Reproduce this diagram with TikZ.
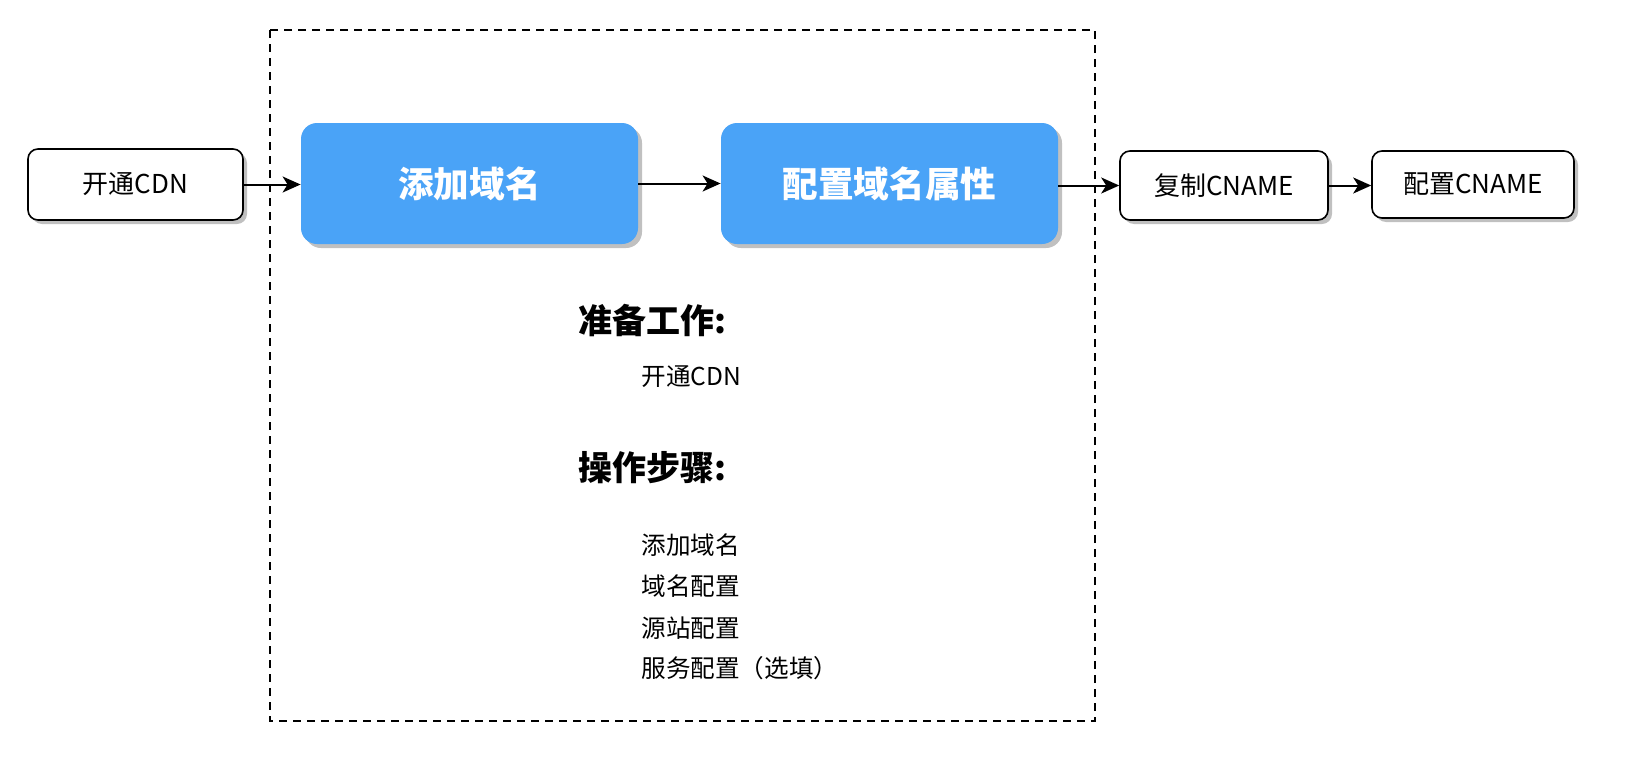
\documentclass[tikz,border=0pt]{standalone}
\usepackage{fontspec}
\setmainfont{Noto Sans CJK SC}
\usetikzlibrary{arrows.meta,shadows}
\definecolor{bluebox}{RGB}{74,163,247}
\definecolor{shadowgray}{RGB}{192,192,192}
\tikzset{
  whitebox/.style={draw=black, line width=0.8pt, fill=white, rounded corners=5pt,
    drop shadow={shadow xshift=2pt, shadow yshift=-2pt, fill=shadowgray, opacity=1},
    font=\fontsize{13pt}{15pt}\selectfont, inner sep=0pt},
  bluestep/.style={draw=none, fill=bluebox, rounded corners=8pt,
    drop shadow={shadow xshift=2pt, shadow yshift=-2pt, fill=shadowgray, opacity=1},
    text=white, font=\fontsize{17.8pt}{20pt}\selectfont\bfseries, inner sep=0pt},
  flow/.style={-{Stealth[length=9pt,width=8pt,inset=2.5pt]}, line width=1pt, black},
  heading/.style={anchor=west, font=\fontsize{17pt}{20pt}\selectfont\bfseries, inner sep=0pt},
  item/.style={anchor=west, font=\fontsize{12.3pt}{14pt}\selectfont, inner sep=0pt},
  groupbox/.style={draw=black, line width=0.7pt, dash pattern=on 4pt off 3pt}
}
\begin{document}
\begin{tikzpicture}[x=0.5pt,y=-0.5pt]
\useasboundingbox[fill=white] (0,0) rectangle (1640,782);
\draw[groupbox] (270,30) rectangle (1095,721);
\node[whitebox, minimum width=107.5pt, minimum height=35.5pt] (open) at (135.5,184.5) {开通CDN};
\node[bluestep, minimum width=168.5pt, minimum height=60.5pt] (add) at (469.5,183.5) {添加域名};
\node[bluestep, minimum width=168.5pt, minimum height=60.5pt] (conf) at (889.5,183.5) {配置域名属性};
\node[whitebox, minimum width=104pt, minimum height=34.5pt] (copy) at (1224,185.5) {复制CNAME};
\node[whitebox, minimum width=101pt, minimum height=33.5pt] (cname) at (1473,184.5) {配置CNAME};
\draw[flow] (open.east) -- (open.east -| add.west);
\draw[flow] (add.east) -- (add.east -| conf.west);
\draw[flow] (conf.east |- copy.west) -- (copy.west);
\draw[flow] (copy.east) -- (copy.east -| cname.west);
\node[heading] (prep) at (578,321) {准备工作:};
\node[item] (prep1) at (641,377) {开通CDN};
\node[heading] (steps) at (578,468) {操作步骤:};
\node[item] (s1) at (641,545) {添加域名};
\node[item] (s2) at (641,586) {域名配置};
\node[item] (s3) at (641,628) {源站配置};
\node[item] (s4) at (641,668) {服务配置（选填）};
\end{tikzpicture}
\end{document}
